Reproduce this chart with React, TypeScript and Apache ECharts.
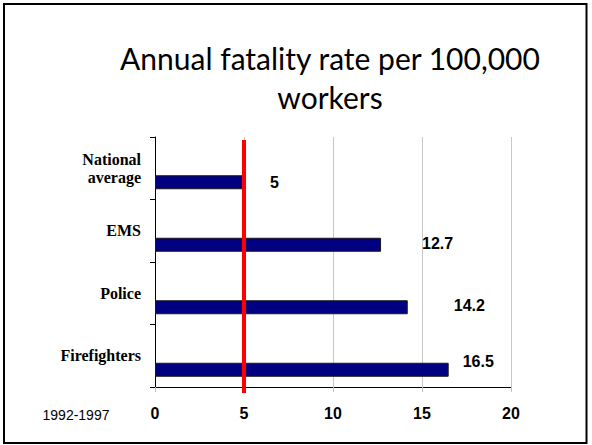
import React, { useEffect, useRef } from "react";
import * as echarts from "echarts";

const categories = ["National\naverage", "EMS", "Police", "Firefighters"];
const rates = [5, 12.7, 14.2, 16.5];
const xMin = 0;
const xMax = 20;
const xInterval = 5;
const referenceRate = 5;
const periodLabel = "1992-1997";
const titleText = "Annual fatality rate per 100,000\nworkers";

// label nudges (style only)
const labelOffsets: number[][] = [[26, 0], [41, -1], [46, -2], [14, -8]];

export default function App() {
  const ref = useRef<HTMLDivElement>(null);

  useEffect(() => {
    const chart = echarts.init(ref.current!, null, { renderer: "svg" });
    const option: any = {
      animation: false,
      backgroundColor: "#ffffff",
      grid: { left: 155, right: 81, top: 137, bottom: 58, containLabel: false },
      xAxis: {
        type: "value",
        min: xMin,
        max: xMax,
        interval: xInterval,
        axisLine: { show: true, lineStyle: { color: "#000", width: 1 } },
        axisTick: { show: true, length: 5, lineStyle: { color: "#c0c0c0" } },
        splitLine: { show: true, lineStyle: { color: "#c8c8c8", width: 1 } },
        axisLabel: {
          margin: 18,
          fontFamily: "Liberation Sans",
          fontWeight: "bold",
          fontSize: 16,
          color: "#000",
        },
      },
      yAxis: {
        type: "category",
        inverse: true,
        data: categories,
        axisLine: { show: true, lineStyle: { color: "#000", width: 1 } },
        axisTick: { show: true, length: 5, lineStyle: { color: "#000" } },
        splitLine: { show: false },
        axisLabel: {
          margin: 14,
          fontFamily: "Liberation Serif",
          fontWeight: "bold",
          fontSize: 16,
          lineHeight: 18,
          color: "#000",
          align: "right",
        },
      },
      series: [
        {
          type: "bar",
          data: categories.map(() => "-"),
          barWidth: 14,
          barGap: "100%",
          silent: true,
        },
        {
          type: "bar",
          data: rates.map((v, i) => ({ value: v, label: { offset: labelOffsets[i] } })),
          barWidth: 14,
          barGap: "100%",
          itemStyle: { color: "#000080", borderColor: "#1a1a1a", borderWidth: 1 },
          label: {
            show: true,
            position: "right",
            distance: 0,
            fontFamily: "Liberation Sans",
            fontWeight: "bold",
            fontSize: 16,
            color: "#000",
          },
        },
      ],
    };
    chart.setOption(option);

    const xRef = chart.convertToPixel({ xAxisIndex: 0 }, referenceRate) as number;
    chart.setOption({
      graphic: [
        {
          type: "rect",
          shape: { x: 4, y: 4, width: 582.5, height: 439 },
          style: { fill: "none", stroke: "#000", lineWidth: 2 },
          z: 100,
        },
        {
          type: "text",
          x: 330,
          y: 38,
          style: {
            text: titleText,
            font: "30px Lato",
            textAlign: "center",
            textVerticalAlign: "top",
            lineHeight: 39,
            fill: "#000",
          },
          z: 100,
        },
        {
          type: "text",
          x: 76,
          y: 415,
          style: {
            text: periodLabel,
            font: "14px 'Liberation Sans'",
            textAlign: "center",
            textVerticalAlign: "middle",
            fill: "#000",
          },
          z: 100,
        },
        {
          type: "line",
          shape: { x1: xRef, y1: 140, x2: xRef, y2: 393 },
          style: { stroke: "#ff0000", lineWidth: 4 },
          z: 100,
        },
      ],
    });

    return () => chart.dispose();
  }, []);

  return (
    <div
      ref={ref}
      style={{ position: "fixed", left: 0, top: 0, width: 592, height: 445 }}
    />
  );
}
